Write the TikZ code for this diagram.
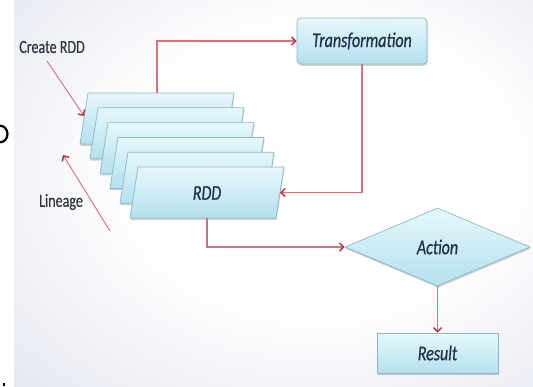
\documentclass[tikz,border=0pt]{standalone}
\usepackage{fontspec}
\usetikzlibrary{arrows.meta,shapes.geometric,shadows}
\newfontfamily\diagfont[FakeStretch=0.76, FakeBold=0.5]{Carlito}
\newfontfamily\diagheavy[FakeStretch=0.76, FakeBold=0.7]{Carlito}
\definecolor{bgedge}{HTML}{D9DCEA}
\definecolor{bgcorner}{HTML}{CDD1E3}
\definecolor{boxtop}{HTML}{E6F7FB}
\definecolor{boxbot}{HTML}{B3E1EE}
\definecolor{boxline}{HTML}{8CB7C7}
\definecolor{labelink}{HTML}{22304A}
\definecolor{sideink}{HTML}{33363E}
\definecolor{flowline}{HTML}{D0737A}
\definecolor{flowtip}{HTML}{C22F3C}
% soft glow behind the chart, white in the middle, lavender at the rim
\pgfdeclareradialshading{backglow}{\pgfpoint{6bp}{4bp}}{color(0bp)=(white); color(18bp)=(white); color(50bp)=(bgedge); color(75bp)=(bgcorner)}
\begin{document}
\begin{tikzpicture}[x=1pt,y=-1pt,
  card/.style={draw=boxline, line width=0.7pt, top color=boxtop, bottom color=boxbot,
    drop shadow={shadow xshift=0.6pt, shadow yshift=-1.8pt, opacity=0.3, fill=black!60}},
  nodetext/.style={text=labelink, font=\diagheavy\itshape\fontsize{21}{25}\selectfont},
  sidelabel/.style={text=sideink, font=\diagfont\fontsize{18.5}{22}\selectfont},
  flow/.style={draw=flowline, line width=1.1pt,
    -{Straight Barb[length=4pt, width=8pt, line width=1.5pt, color=flowtip]}},
]
\path[use as bounding box] (0,0) rectangle (533,386);
\fill[white] (0,0) rectangle (533,386);
\shade[shading=backglow] (14,0) rectangle (533,386);

% stroke fragments in the white margin
\begin{scope}
  \clip (0,0) rectangle (14,386);
  \draw[line width=2.2pt] (0,134) ellipse [x radius=7.5pt, y radius=8.3pt];
  \fill (3,382.5) rectangle (5,386);
\end{scope}

% stack of RDD cards (slanted, 146 wide, 51 high), back to front
\foreach \i in {0,...,5} {
  \pgfmathsetmacro\cx{157+10*\i}
  \pgfmathsetmacro\cy{118.5+14.8*\i}
  \path[card] (\cx-77,\cy+25.5) -- (\cx+69,\cy+25.5) -- (\cx+77,\cy-25.5)
              -- (\cx-69,\cy-25.5) -- cycle;
}
% anchor points on the back card and on the front card
\coordinate (backtop) at (157,93);
\coordinate (frontright) at (280,192.5);
\coordinate (frontbottom) at (207,218);
\node[nodetext] (rdd) at (207,193) {RDD};

\node[card, rounded corners=4pt, minimum width=130pt, minimum height=46pt, nodetext] (tf) at (362,41) {Transformation};
\node[card, diamond, aspect=2.4, minimum width=185pt, minimum height=78pt, inner sep=0pt, nodetext] (act) at (437.5,247) {Action};
\node[card, minimum width=121pt, minimum height=40pt, nodetext] (res) at (437.5,353) {Result};

\node[sidelabel] (crlabel) at (52,47) {Create RDD};
\node[sidelabel] (linlabel) at (61,202) {Lineage};
\coordinate (crfrom) at (47,61);
\coordinate (crto) at (84,116);
\coordinate (linfrom) at (110,231);
\coordinate (linto) at (63,155);

\draw[flow] (backtop) |- (tf.west);
\draw[flow] (tf.south) |- (frontright);
\draw[flow] (frontbottom) |- (act.west);
\draw[flow] (act.south) -- (res.north);
\draw[flow, line width=0.9pt] (crfrom) -- (crto);
\draw[flow, line width=0.9pt] (linfrom) -- (linto);
\end{tikzpicture}
\end{document}
